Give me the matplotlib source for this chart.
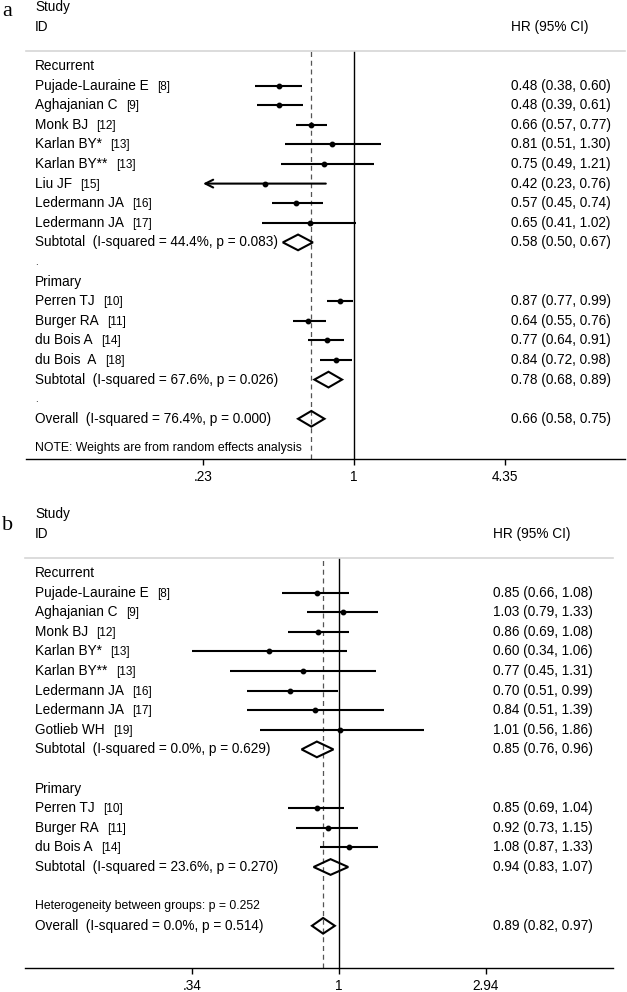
import numpy as np
import matplotlib
matplotlib.use('Agg')
import matplotlib.pyplot as plt
from matplotlib.patches import Polygon

plt.rcParams['font.family'] = ['Liberation Sans', 'DejaVu Sans']

# ---------------- panel a data ----------------
a_rec_names = ['Pujade-Lauraine E', 'Aghajanian C', 'Monk BJ', 'Karlan BY*',
               'Karlan BY**', 'Liu JF', 'Ledermann JA', 'Ledermann JA']
a_rec_refs = ['[8]', '[9]', '[12]', '[13]', '[13]', '[15]', '[16]', '[17]']
a_rec_hr = [0.48, 0.48, 0.66, 0.81, 0.75, 0.42, 0.57, 0.65]
a_rec_lo = [0.38, 0.39, 0.57, 0.51, 0.49, 0.23, 0.45, 0.41]
a_rec_hi = [0.60, 0.61, 0.77, 1.30, 1.21, 0.76, 0.74, 1.02]
a_rec_arrow = [False, False, False, False, False, True, False, False]
a_rec_sub = (0.58, 0.50, 0.67)
a_rec_sub_label = 'Subtotal  (I-squared = 44.4%, p = 0.083)'

a_pri_names = ['Perren TJ', 'Burger RA', 'du Bois A', 'du Bois  A']
a_pri_refs = ['[10]', '[11]', '[14]', '[18]']
a_pri_hr = [0.87, 0.64, 0.77, 0.84]
a_pri_lo = [0.77, 0.55, 0.64, 0.72]
a_pri_hi = [0.99, 0.76, 0.91, 0.98]
a_pri_sub = (0.78, 0.68, 0.89)
a_pri_sub_label = 'Subtotal  (I-squared = 67.6%, p = 0.026)'

a_overall = (0.66, 0.58, 0.75)
a_overall_label = 'Overall  (I-squared = 76.4%, p = 0.000)'
a_note = 'NOTE: Weights are from random effects analysis'
a_ticks = [0.23, 1, 4.35]
a_ticklabels = ['.23', '1', '4.35']

# ---------------- panel b data ----------------
b_rec_names = ['Pujade-Lauraine E', 'Aghajanian C', 'Monk BJ', 'Karlan BY*',
               'Karlan BY**', 'Ledermann JA', 'Ledermann JA', 'Gotlieb WH']
b_rec_refs = ['[8]', '[9]', '[12]', '[13]', '[13]', '[16]', '[17]', '[19]']
b_rec_hr = [0.85, 1.03, 0.86, 0.60, 0.77, 0.70, 0.84, 1.01]
b_rec_lo = [0.66, 0.79, 0.69, 0.34, 0.45, 0.51, 0.51, 0.56]
b_rec_hi = [1.08, 1.33, 1.08, 1.06, 1.31, 0.99, 1.39, 1.86]
b_rec_sub = (0.85, 0.76, 0.96)
b_rec_sub_label = 'Subtotal  (I-squared = 0.0%, p = 0.629)'

b_pri_names = ['Perren TJ', 'Burger RA', 'du Bois A']
b_pri_refs = ['[10]', '[11]', '[14]']
b_pri_hr = [0.85, 0.92, 1.08]
b_pri_lo = [0.69, 0.73, 0.87]
b_pri_hi = [1.04, 1.15, 1.33]
b_pri_sub = (0.94, 0.83, 1.07)
b_pri_sub_label = 'Subtotal  (I-squared = 23.6%, p = 0.270)'

b_het = 'Heterogeneity between groups: p = 0.252'
b_overall = (0.89, 0.82, 0.97)
b_overall_label = 'Overall  (I-squared = 0.0%, p = 0.514)'
b_ticks = [0.34, 1, 2.94]
b_ticklabels = ['.34', '1', '2.94']

W, H = 627.0, 992.0
fig = plt.figure(figsize=(W / 100, H / 100), dpi=100)
FS = 9.8
FS_REF = 8.5
FS_SMALL = 8.8
ROW = 19.6


def fmt(hr, lo, hi):
    return '%.2f (%.2f, %.2f)' % (hr, lo, hi)


def make_panel(left, right, top, bottom, one_px, ppl, y0, text_px, val_px,
               ticks, ticklabels, overall):
    ax = fig.add_axes([left / W, 1 - bottom / H, (right - left) / W, (bottom - top) / H])
    ax.set_xscale('log')
    ax.set_xlim(np.exp((left - one_px) / ppl), np.exp((right - one_px) / ppl))
    ax.set_ylim((bottom - y0) / ROW, (top - y0) / ROW)
    ax.set_yticks([])
    ax.spines['left'].set_visible(False)
    ax.spines['right'].set_visible(False)
    ax.spines['top'].set_color('#d6d6d6')
    ax.spines['top'].set_linewidth(1.2)
    ax.spines['bottom'].set_linewidth(1.0)
    ax.xaxis.set_minor_locator(matplotlib.ticker.NullLocator())
    ax.set_xticks(ticks)
    ax.set_xticklabels(ticklabels)
    ax.tick_params(axis='x', direction='out', length=4, width=1, pad=4, labelsize=FS)
    ax.axvline(1, color='black', lw=1.0, zorder=1)
    ax.axvline(overall[0], color='#555555', lw=0.9, ls=(0, (4, 3)), zorder=1)
    ax.tx = (text_px - left) / (right - left)
    ax.vx = (val_px - left) / (right - left)
    return ax


def label(ax, row, s, fs=FS):
    return ax.text(ax.tx, row, s, transform=ax.get_yaxis_transform(),
                   va='center', ha='left', fontsize=fs)


def value(ax, row, est):
    ax.text(ax.vx, row, fmt(*est), transform=ax.get_yaxis_transform(),
            va='center', ha='left', fontsize=FS)


def study(ax, row, name, ref, hr, lo, hi, arrow=False):
    t = label(ax, row, name)
    ax.annotate(ref, xy=(1, 0), xycoords=t, xytext=(6, 0), textcoords='offset points',
                va='bottom', ha='left', fontsize=FS_REF)
    if arrow:
        ax.annotate('', xy=(lo, row), xytext=(hi, row),
                    arrowprops=dict(arrowstyle='->', lw=1.5, color='black',
                                    mutation_scale=14, shrinkA=0, shrinkB=0))
    else:
        ax.plot([lo, hi], [row, row], color='black', lw=1.5, solid_capstyle='butt', zorder=3)
    ax.plot([hr], [row], 'o', color='black', ms=3.2, zorder=4)
    value(ax, row, (hr, lo, hi))


def diamond(ax, row, est, s):
    hr, lo, hi = est
    label(ax, row, s)
    ax.add_patch(Polygon([(lo, row), (hr, row - 0.4), (hi, row), (hr, row + 0.4)],
                         closed=True, fill=False, edgecolor='black', lw=1.5, zorder=4))
    value(ax, row, est)


def header(ax, val_row):
    label(ax, -3, 'Study')
    label(ax, -2, 'ID')
    ax.text(ax.vx, val_row, 'HR (95% CI)', transform=ax.get_yaxis_transform(),
            va='center', ha='left', fontsize=FS)


# ---------------- panel a ----------------
ax1 = make_panel(26, 625, 51, 459, 354, 102.7, 66, 35, 511, a_ticks, a_ticklabels, a_overall)
header(ax1, -2)
label(ax1, 0, 'Recurrent')
for i in range(len(a_rec_names)):
    study(ax1, 1 + i, a_rec_names[i], a_rec_refs[i], a_rec_hr[i], a_rec_lo[i], a_rec_hi[i],
          a_rec_arrow[i])
diamond(ax1, 9, a_rec_sub, a_rec_sub_label)
label(ax1, 10, '.', fs=7)
label(ax1, 11, 'Primary')
for i in range(len(a_pri_names)):
    study(ax1, 12 + i, a_pri_names[i], a_pri_refs[i], a_pri_hr[i], a_pri_lo[i], a_pri_hi[i])
diamond(ax1, 16, a_pri_sub, a_pri_sub_label)
label(ax1, 17, '.', fs=7)
diamond(ax1, 18, a_overall, a_overall_label)
label(ax1, 19.5, a_note, fs=FS_SMALL)

# ---------------- panel b ----------------
ax2 = make_panel(25, 613, 558, 968, 339, 136.3, 573, 35, 493, b_ticks, b_ticklabels, b_overall)
header(ax2, -2)
label(ax2, 0, 'Recurrent')
for i in range(len(b_rec_names)):
    study(ax2, 1 + i, b_rec_names[i], b_rec_refs[i], b_rec_hr[i], b_rec_lo[i], b_rec_hi[i])
diamond(ax2, 9, b_rec_sub, b_rec_sub_label)
label(ax2, 11, 'Primary')
for i in range(len(b_pri_names)):
    study(ax2, 12 + i, b_pri_names[i], b_pri_refs[i], b_pri_hr[i], b_pri_lo[i], b_pri_hi[i])
diamond(ax2, 15, b_pri_sub, b_pri_sub_label)
label(ax2, 17, b_het, fs=FS_SMALL)
diamond(ax2, 18, b_overall, b_overall_label)

fig.text(2 / W, 1 - 16 / H, 'a', family='Liberation Serif', fontsize=16, va='baseline')
fig.text(2 / W, 1 - 530 / H, 'b', family='Liberation Serif', fontsize=16, va='baseline')

fig.savefig('out.png', dpi=100)
